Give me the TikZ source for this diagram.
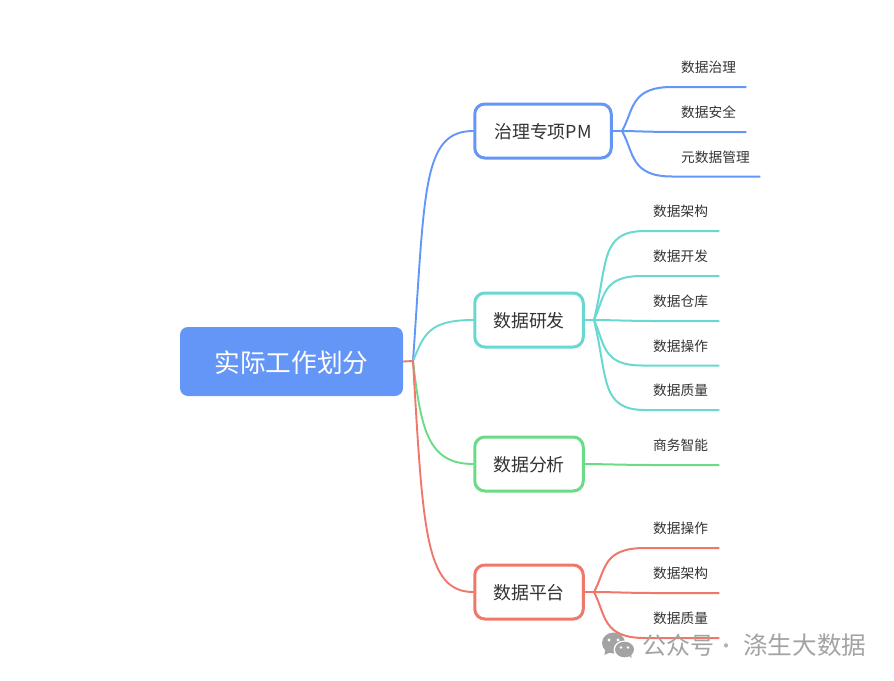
\documentclass[tikz,border=0pt]{standalone}
\usepackage{fontspec}
\setmainfont{Noto Sans CJK SC}
\definecolor{cblue}{HTML}{6496F8}
\definecolor{cteal}{HTML}{69D8D1}
\definecolor{cgreen}{HTML}{6BDB88}
\definecolor{cred}{HTML}{EF786B}
\definecolor{ctext}{HTML}{333333}
\newcommand{\lowertext}[1]{\raisebox{-1pt}[\height][\depth]{#1}}
\tikzset{
  rootbox/.style={rectangle,rounded corners=8pt,fill=cblue,text=white,minimum width=223pt,minimum height=69pt,inner sep=0pt,font=\fontsize{25.7pt}{28pt}\selectfont},
  branchbox/.style={rectangle,rounded corners=10pt,draw,line width=3pt,fill=white,text=ctext,minimum height=54pt,inner sep=0pt,font=\fontsize{17.9pt}{20pt}\selectfont},
  leafbox/.style={rectangle,anchor=south west,inner sep=0pt,text=ctext,minimum height=38.5pt,align=left,font=\fontsize{13.7pt}{15pt}\selectfont},
  link/.style={line width=1.9pt,line cap=round},
  leafline/.style={line width=2pt},
}
\begin{document}
\begin{tikzpicture}[x=1pt,y=-1pt]
\useasboundingbox (0,0) rectangle (894,680);
\node[rootbox] (root) at (291.5,361.5) {\lowertext{实际工作划分}};
\coordinate (jr) at (413,361);
\node[branchbox,draw=cblue,minimum width=136.5pt] (b1) at (543,131) {\lowertext{治理专项PM}};
\node[branchbox,draw=cteal,minimum width=108.5pt] (b2) at (529,320) {\lowertext{数据研发}};
\node[branchbox,draw=cgreen,minimum width=108.5pt] (b3) at (529,464) {\lowertext{数据分析}};
\node[branchbox,draw=cred,minimum width=108.5pt] (b4) at (529,592) {\lowertext{数据平台}};
\coordinate (j1) at (622,131);
\coordinate (j2) at (594,320);
\coordinate (j4) at (594,592);
% leaves
\node[leafbox,text width=65pt] (l11) at (681,87) {数据治理};
\node[leafbox,text width=65pt] (l12) at (681,132) {数据安全};
\node[leafbox,text width=79pt] (l13) at (681,176.5) {元数据管理};
\node[leafbox,text width=66pt] (l21) at (653,231) {数据架构};
\node[leafbox,text width=66pt] (l22) at (653,276) {数据开发};
\node[leafbox,text width=66pt] (l23) at (653,321) {数据仓库};
\node[leafbox,text width=66pt] (l24) at (653,365.5) {数据操作};
\node[leafbox,text width=66pt] (l25) at (653,410) {数据质量};
\node[leafbox,text width=66pt] (l31) at (653,465) {商务智能};
\node[leafbox,text width=66pt] (l41) at (653,548) {数据操作};
\node[leafbox,text width=66pt] (l42) at (653,593) {数据架构};
\node[leafbox,text width=66pt] (l43) at (653,638) {数据质量};
% root connectors
\draw[link,cblue] (jr) .. controls (425,190) and (422,131) .. (b1.west);
\draw[link,cteal] (jr) .. controls (424,335) and (428,320) .. (b2.west);
\draw[link,cgreen] (jr) .. controls (421,430) and (428,464) .. (b3.west);
\draw[link,cred] (root.east) -- (jr) .. controls (423,530) and (425,592) .. (b4.west);
% group 1
\draw[link,cblue] (b1.east) -- (j1);
\draw[leafline,cblue] (j1) .. controls (634,110) and (630,87) .. (672,87) -- (l11.south west) -- (l11.south east);
\draw[leafline,cblue] (j1) .. controls (635,131) and (645,132) .. (l12.south west) -- (l12.south east);
\draw[leafline,cblue] (j1) .. controls (634,152) and (630,176.5) .. (672,176.5) -- (l13.south west) -- (l13.south east);
% group 2
\draw[link,cteal] (b2.east) -- (j2);
\draw[leafline,cteal] (j2) .. controls (608,262) and (600,231) .. (645,231) -- (l21.south west) -- (l21.south east);
\draw[leafline,cteal] (j2) .. controls (605,296) and (602,276) .. (642,276) -- (l22.south west) -- (l22.south east);
\draw[leafline,cteal] (j2) .. controls (610,320) and (630,321) .. (l23.south west) -- (l23.south east);
\draw[leafline,cteal] (j2) .. controls (605,344) and (602,365.5) .. (642,365.5) -- (l24.south west) -- (l24.south east);
\draw[leafline,cteal] (j2) .. controls (608,378) and (600,410) .. (645,410) -- (l25.south west) -- (l25.south east);
% group 3
\draw[leafline,cgreen] (b3.east) .. controls (600,464) and (625,465) .. (l31.south west) -- (l31.south east);
% group 4
\draw[link,cred] (b4.east) -- (j4);
\draw[leafline,cred] (j4) .. controls (606,570) and (602,548) .. (645,548) -- (l41.south west) -- (l41.south east);
\draw[leafline,cred] (j4) .. controls (610,592) and (630,593) .. (l42.south west) -- (l42.south east);
\draw[leafline,cred] (j4) .. controls (606,615) and (602,638) .. (645,638) -- (l43.south west) -- (l43.south east);
% watermark
\node[anchor=west,inner sep=0pt,text=black!36,font=\fontsize{24pt}{26pt}\selectfont] (wm) at (642,645) {公众号};
\node[inner sep=0pt,text=black!30,font=\fontsize{20pt}{26pt}\selectfont] (wmdot) at (726,649) {·};
\node[anchor=west,inner sep=0pt,text=black!36,font=\fontsize{24.6pt}{26pt}\selectfont] (wm2) at (743,645) {涤生大数据};
% wechat icon
\fill[black!36] (613.5,643) ellipse [x radius=11.5pt,y radius=10.5pt];
\fill[black!36] (605,650) -- (604.5,655) -- (611,652) -- cycle;
\fill[white] (624.5,649.5) ellipse [x radius=11pt,y radius=9pt];
\fill[black!36] (624.5,649.5) ellipse [x radius=9.5pt,y radius=7.8pt];
\fill[black!36] (628,655) -- (631.5,658) -- (631,652) -- cycle;
\fill[white] (609,640) circle [radius=1.7pt] (618,640) circle [radius=1.7pt];
\fill[white] (621,647.5) circle [radius=1.3pt] (628,647.5) circle [radius=1.3pt];
\end{tikzpicture}
\end{document}
